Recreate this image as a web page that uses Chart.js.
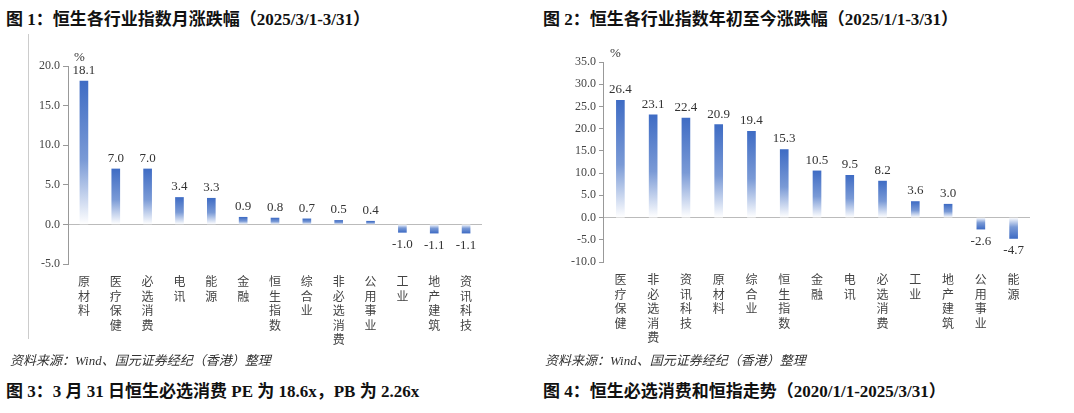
<!DOCTYPE html>
<html><head><meta charset="utf-8">
<script src="https://cdn.jsdelivr.net/npm/chart.js@4.4.0/dist/chart.umd.min.js"></script>
<style>
body{margin:0;width:1074px;height:413px;background:#fff;font-family:"Liberation Serif","Noto Sans CJK SC";position:relative;overflow:hidden}
.t{position:absolute;font-weight:bold;font-size:17px;color:#111;font-family:"Liberation Serif","Noto Sans CJK SC";white-space:nowrap}
.s{position:absolute;font-size:13px;color:#333;font-style:italic;font-family:"Liberation Serif","Noto Sans CJK SC"}
.c{position:absolute}
</style></head><body>
<div class="t" style="left:6px;top:5px">图 1：恒生各行业指数月涨跌幅（2025/3/1-3/31）</div>
<div class="t" style="left:543px;top:5px">图 2：恒生各行业指数年初至今涨跌幅（2025/1/1-3/31）</div>
<div style="position:absolute;left:28px;top:34px;height:305px;border-left:1px solid #ccc"></div>
<div class="c" style="left:36px;top:52px;width:494px;height:308px"><canvas id="c1"></canvas></div>
<div class="c" style="left:568px;top:48px;width:502px;height:310px"><canvas id="c2"></canvas></div>
<div class="s" style="left:10px;top:350px">资料来源：Wind、国元证券经纪（香港）整理</div>
<div class="s" style="left:545px;top:350px">资料来源：Wind、国元证券经纪（香港）整理</div>
<div class="t" style="left:6px;top:377px">图 3：3 月 31 日恒生必选消费 PE 为 18.6x，PB 为 2.26x</div>
<div class="t" style="left:543px;top:377px">图 4：恒生必选消费和恒指走势（2020/1/1-2025/3/31）</div>
<script>
const cats1=["原材料","医疗保健","必选消费","电讯","能源","金融","恒生指数","综合业","非必选消费","公用事业","工业","地产建筑","资讯科技"];
const vals1=[18.1,7.0,7.0,3.4,3.3,0.9,0.8,0.7,0.5,0.4,-1.0,-1.1,-1.1];
const cats2=["医疗保健","非必选消费","资讯科技","原材料","综合业","恒生指数","金融","电讯","必选消费","工业","地产建筑","公用事业","能源"];
const vals2=[26.4,23.1,22.4,20.9,19.4,15.3,10.5,9.5,8.2,3.6,3.0,-2.6,-4.7];
const ticks1={min:-5,max:20,step:5};
const ticks2={min:-10,max:35,step:5};
const font='"Liberation Serif","Noto Sans CJK SC"';
function grad(c){
  const ch=c.chart,ys=ch.scales.y;if(!ys)return '#4472c4';
  const v=c.raw,y0=ys.getPixelForValue(0),y1=ys.getPixelForValue(v);
  if(!isFinite(y0)||!isFinite(y1)||y0===y1)return '#4472c4';
  const g=ch.ctx.createLinearGradient(0,y1,0,y0);
  g.addColorStop(0,'#3f6cc4');g.addColorStop(0.55,'#7a9ad6');g.addColorStop(1,'#ffffff');
  return g;
}
const lbl={id:'lbl',afterDatasetsDraw(ch){
  const ctx=ch.ctx,m=ch.getDatasetMeta(0);ctx.save();
  ctx.font='13px '+font;ctx.fillStyle='#333';ctx.textAlign='center';
  m.data.forEach((b,i)=>{const v=ch.data.datasets[0].data[i];
    if(v>=0){ctx.textBaseline='bottom';ctx.fillText(v.toFixed(1),b.x,b.y-4);}
    else{ctx.textBaseline='top';ctx.fillText(v.toFixed(1),b.x,b.y+6);}});
  ctx.textAlign='left';ctx.textBaseline='bottom';
  ctx.fillText('%',ch.chartArea.left+6,ch.chartArea.top-2);
  ctx.restore();}};
function make(id,cats,vals,t,bw,rp){
  new Chart(document.getElementById(id),{type:'bar',
    data:{labels:cats.map(s=>s.split('')),datasets:[{data:vals,backgroundColor:grad,barThickness:bw}]},
    plugins:[lbl],
    options:{responsive:true,maintainAspectRatio:false,animation:false,
      layout:{padding:{top:14,right:rp}},
      plugins:{legend:{display:false},tooltip:{enabled:false}},
      scales:{
        x:{grid:{display:false,drawTicks:false},border:{display:false},
           ticks:{maxRotation:0,autoSkip:false,font:{family:font,size:12},color:'#444',padding:12}},
        y:{min:t.min,max:t.max,
           ticks:{stepSize:t.step,callback:v=>Number(v).toFixed(1),font:{family:font,size:12},color:'#444'},
           grid:{color:c=>c.tick&&c.tick.value===0?'#bbb':'transparent',drawTicks:true,tickLength:5,tickColor:'#999'},
           border:{display:true,color:'#999'}}}}});
}
make('c1',cats1,vals1,ticks1,8,48);
make('c2',cats2,vals2,ticks2,8,40);
</script>
</body></html>
